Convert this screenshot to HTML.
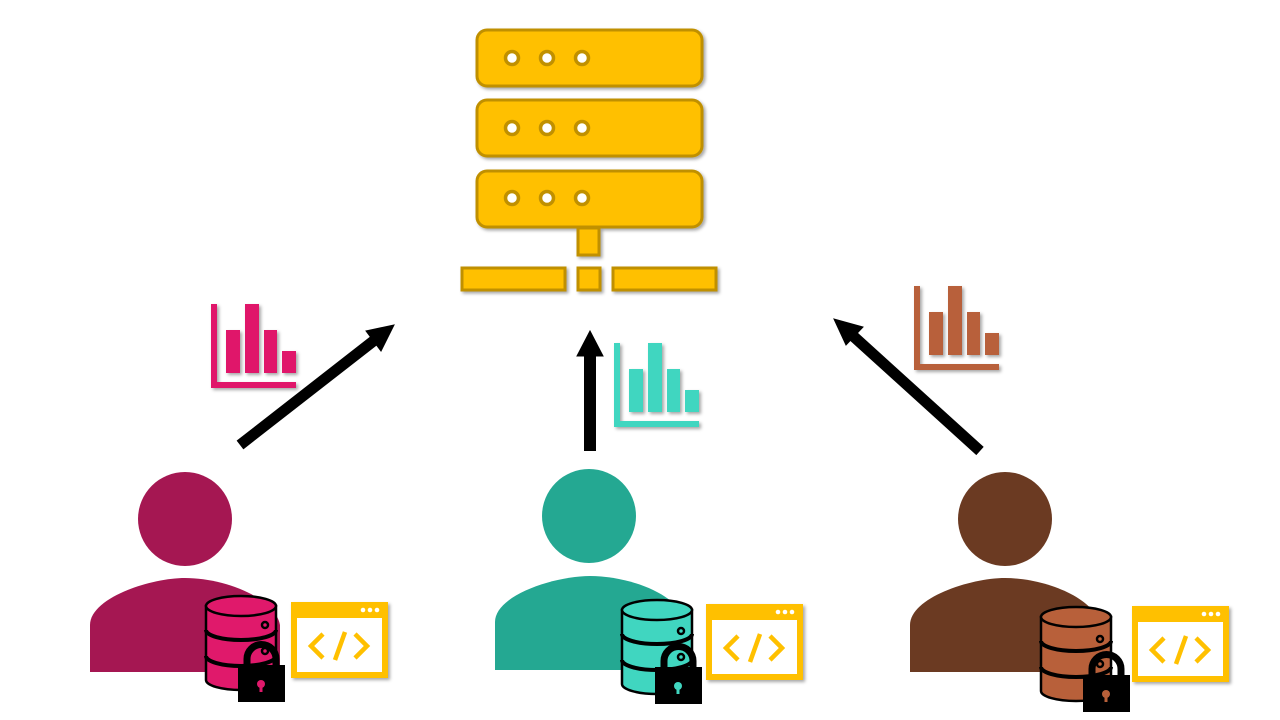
<!DOCTYPE html>
<html><head><meta charset="utf-8"><style>html,body{margin:0;padding:0;background:#fff;width:1280px;height:720px;overflow:hidden}</style></head>
<body>
<svg width="1280" height="720" viewBox="0 0 1280 720" xmlns="http://www.w3.org/2000/svg">
<defs>
<filter id="sh" x="-10%" y="-10%" width="130%" height="130%"><feDropShadow dx="2" dy="2" stdDeviation="1.5" flood-color="#000" flood-opacity="0.35"/></filter>
<g id="chart">
<rect x="0" y="0" width="6" height="84"/>
<rect x="0" y="78" width="85" height="6"/>
<rect x="15" y="26" width="14" height="43"/>
<rect x="34" y="0" width="14" height="69"/>
<rect x="53" y="26" width="13" height="43"/>
<rect x="71" y="47" width="14" height="22"/>
</g>
<g id="win">
<rect x="0" y="0" width="97" height="76" fill="#FFC000"/>
<rect x="6" y="16" width="85" height="54" fill="#fff"/>
<circle cx="72" cy="8" r="2.3" fill="#fff"/><circle cx="79" cy="8" r="2.3" fill="#fff"/><circle cx="86" cy="8" r="2.3" fill="#fff"/>
<path d="M32,32 L20,44 L32,56 M44,58 L54,30 M64,32 L76,44 L64,56" fill="none" stroke="#FFC000" stroke-width="4.5"/>
</g>
<g id="lock">
<path d="M9,24 V16 A14.5,14.5 0 0 1 38,16 V24" fill="none" stroke="#000" stroke-width="7"/>
<rect x="0" y="22" width="47" height="37" fill="#000"/>
</g>
</defs>

<g filter="url(#sh)" fill="#FFC000" stroke="#C09000" stroke-width="3">
<rect x="477" y="30" width="225" height="56" rx="10"/>
<rect x="477" y="100" width="225" height="56" rx="10"/>
<rect x="477" y="171" width="225" height="56" rx="10"/>
<rect x="578" y="228" width="21" height="27"/>
<rect x="462" y="268" width="103" height="22"/>
<rect x="578" y="268" width="22" height="22"/>
<rect x="613" y="268" width="103" height="22"/>
</g>
<g fill="#fff" stroke="#C09000" stroke-width="3.5">
<circle cx="512" cy="58" r="6.5"/><circle cx="547" cy="58" r="6.5"/><circle cx="582" cy="58" r="6.5"/>
<circle cx="512" cy="128" r="6.5"/><circle cx="547" cy="128" r="6.5"/><circle cx="582" cy="128" r="6.5"/>
<circle cx="512" cy="198" r="6.5"/><circle cx="547" cy="198" r="6.5"/><circle cx="582" cy="198" r="6.5"/>
</g>

<g fill="#000" stroke="#000">
<line x1="240" y1="445" x2="376" y2="339" stroke-width="11"/>
<polygon points="394,325 366,331 381,351"/>
<line x1="590" y1="451" x2="590" y2="352" stroke-width="12"/>
<polygon points="590,331 577,356 603,356"/>
<line x1="980" y1="451" x2="852" y2="335" stroke-width="11"/>
<polygon points="834,319 846,345 863,327"/>
</g>

<use href="#chart" x="211" y="304" fill="#E0196B" filter="url(#sh)"/>
<use href="#chart" x="614" y="343" fill="#40D6C0" filter="url(#sh)"/>
<use href="#chart" x="914" y="286" fill="#B8603A" filter="url(#sh)"/>

<g fill="#A51752">
<circle cx="185" cy="519" r="47"/>
<path d="M90,672 V625 C90,598 150,578 185,578 C225,578 275,598 280,625 V672 Z"/>
</g>
<g fill="#24A892">
<circle cx="589" cy="516" r="47"/>
<path d="M495,670 V622 C495,595 555,576 590,576 C630,576 680,595 685,622 V670 Z"/>
</g>
<g fill="#6B3A22">
<circle cx="1005" cy="519" r="47"/>
<path d="M910,672 V625 C910,598 970,578 1005,578 C1045,578 1095,598 1100,625 V672 Z"/>
</g>

<g stroke="#000" stroke-width="2.5">
<g fill="#E0196B">
<path d="M206,606 V680 A35,10 0 0 0 276,680 V606 Z"/>
<ellipse cx="241" cy="606" rx="35" ry="10"/>
<path d="M206,630 A35,10 0 0 0 276,630 M206,656 A35,10 0 0 0 276,656" fill="none" stroke-width="4"/>
<circle cx="265" cy="625" r="3"/><circle cx="265" cy="651" r="3"/>
</g>
<g fill="#40D6C0">
<path d="M622,610 V684 A35,10 0 0 0 692,684 V610 Z"/>
<ellipse cx="657" cy="610" rx="35" ry="10"/>
<path d="M622,634 A35,10 0 0 0 692,634 M622,660 A35,10 0 0 0 692,660" fill="none" stroke-width="4"/>
<circle cx="681" cy="631" r="3"/><circle cx="681" cy="657" r="3"/>
</g>
<g fill="#B8603A">
<path d="M1041,617 V691 A35,10 0 0 0 1111,691 V617 Z"/>
<ellipse cx="1076" cy="617" rx="35" ry="10"/>
<path d="M1041,641 A35,10 0 0 0 1111,641 M1041,667 A35,10 0 0 0 1111,667" fill="none" stroke-width="4"/>
<circle cx="1100" cy="639" r="3"/><circle cx="1100" cy="664" r="3"/>
</g>
</g>

<use href="#lock" x="238" y="643"/>
<circle cx="261" cy="684" r="4" fill="#E0196B"/><rect x="259.5" y="684" width="3" height="8" fill="#E0196B"/>
<use href="#lock" x="655" y="645"/>
<circle cx="678" cy="686" r="4" fill="#40D6C0"/><rect x="676.5" y="686" width="3" height="8" fill="#40D6C0"/>
<use href="#lock" x="1083" y="653"/>
<circle cx="1106" cy="694" r="4" fill="#B8603A"/><rect x="1104.5" y="694" width="3" height="8" fill="#B8603A"/>

<use href="#win" x="291" y="602" filter="url(#sh)"/>
<use href="#win" x="706" y="604" filter="url(#sh)"/>
<use href="#win" x="1132" y="606" filter="url(#sh)"/>
</svg>
</body></html>
